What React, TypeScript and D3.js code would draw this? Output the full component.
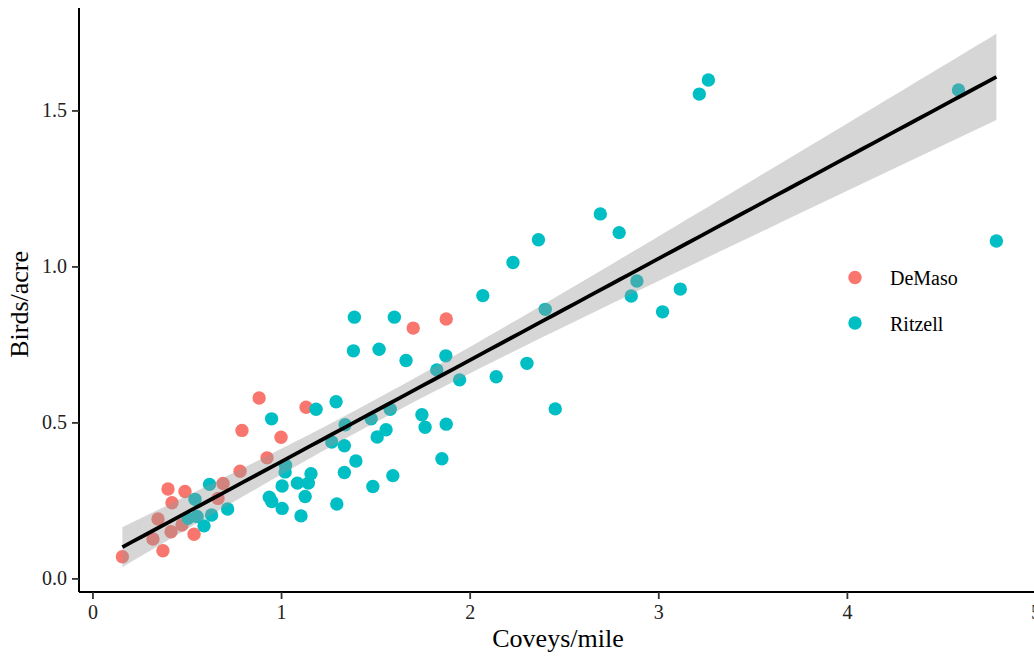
import React from "react";
import * as d3 from "d3";

const demasoX = [0.156, 0.371, 0.318, 0.414, 0.345, 0.536, 0.472, 0.398, 0.488, 0.419, 0.69, 0.663, 0.78, 0.923, 0.79, 0.881, 0.997, 1.13, 1.698, 1.873];
const demasoY = [0.071, 0.09, 0.128, 0.151, 0.192, 0.143, 0.173, 0.288, 0.28, 0.244, 0.306, 0.258, 0.345, 0.388, 0.476, 0.58, 0.454, 0.55, 0.804, 0.833];

const ritzellX = [
  0.541, 0.618, 0.714, 0.629, 0.589, 0.552, 0.504, 0.935, 0.948, 1.003, 1.003, 1.084, 1.142, 1.125, 1.103,
  1.156, 1.021, 1.019, 0.947, 1.183, 1.289, 1.266, 1.333, 1.337, 1.394, 1.333, 1.293, 1.484, 1.59, 1.475, 1.507,
  1.554, 1.576, 1.386, 1.598, 1.381, 1.517, 1.66, 1.871, 1.823, 1.944, 1.744, 1.761, 1.873, 1.85, 2.138, 2.301,
  2.451, 2.398, 2.067, 2.227, 2.362, 2.69, 2.79, 2.884, 2.854, 3.114, 3.02, 3.215, 3.263, 4.589, 4.79,
];
const ritzellY = [
  0.255, 0.303, 0.224, 0.205, 0.17, 0.2, 0.194, 0.262, 0.248, 0.226, 0.298, 0.307, 0.307, 0.264, 0.202,
  0.337, 0.364, 0.343, 0.513, 0.544, 0.568, 0.439, 0.427, 0.494, 0.378, 0.341, 0.24, 0.296, 0.331, 0.513, 0.455,
  0.478, 0.544, 0.839, 0.839, 0.731, 0.736, 0.7, 0.715, 0.67, 0.638, 0.526, 0.486, 0.496, 0.385, 0.648, 0.691,
  0.545, 0.864, 0.908, 1.014, 1.087, 1.17, 1.11, 0.955, 0.907, 0.929, 0.856, 1.554, 1.599, 1.567, 1.083,
];

const groups = ["DeMaso", "Ritzell"];
const groupColors = ["#F8766D", "#00BFC4"];
const xTicks = [0, 1, 2, 3, 4, 5];
const yTicks = [0, 0.5, 1.0, 1.5];
const xDomain = [-0.074, 5.0];
const yDomain = [-0.042, 1.83];

const W = 1034;
const H = 656;
const FONT = "'Liberation Serif', 'Times New Roman', serif";

export default function App() {
  const x = d3.scaleLinear().domain(xDomain).range([79, 1036]);
  const y = d3.scaleLinear().domain(yDomain).range([592, 8]);

  const pts = [
    ...demasoX.map((v, i) => ({ x: v, y: demasoY[i], g: 0 })),
    ...ritzellX.map((v, i) => ({ x: v, y: ritzellY[i], g: 1 })),
  ];

  // linear model with 95% confidence band
  const n = pts.length;
  const mx = d3.mean(pts, (d) => d.x)!;
  const my = d3.mean(pts, (d) => d.y)!;
  const sxx = d3.sum(pts, (d) => (d.x - mx) ** 2);
  const sxy = d3.sum(pts, (d) => (d.x - mx) * (d.y - my));
  const b = sxy / sxx;
  const a = my - b * mx;
  const sse = d3.sum(pts, (d) => (d.y - (a + b * d.x)) ** 2);
  const s = Math.sqrt(sse / (n - 2));
  const tq = 1.989;
  const [xmin, xmax] = d3.extent(pts, (d) => d.x) as [number, number];
  const grid = d3.range(80).map((i) => xmin + ((xmax - xmin) * i) / 79);
  const fit = grid.map((gx) => {
    const yh = a + b * gx;
    const se = s * Math.sqrt(1 / n + (gx - mx) ** 2 / sxx);
    return { x: gx, y: yh, lo: yh - tq * se, hi: yh + tq * se };
  });

  const area = d3
    .area<{ x: number; lo: number; hi: number }>()
    .x((d) => x(d.x))
    .y0((d) => y(d.lo))
    .y1((d) => y(d.hi));
  const line = d3
    .line<{ x: number; y: number }>()
    .x((d) => x(d.x))
    .y((d) => y(d.y));

  return (
    <svg
      width={W}
      height={H}
      style={{ position: "absolute", left: 0, top: 0, display: "block", background: "#fff" }}
      fontFamily={FONT}
    >
      <rect x={0} y={0} width={W} height={H} fill="#fff" />
      {pts.map((d, i) => (
        <circle key={i} cx={x(d.x)} cy={y(d.y)} r={6.7} fill={groupColors[d.g]} />
      ))}
      <path d={area(fit) || ""} fill="#999999" fillOpacity={0.4} />
      <path d={line(fit) || ""} fill="none" stroke="#000" strokeWidth={3.8} />

      {/* axes */}
      <line x1={79} x2={1036} y1={592} y2={592} stroke="#000" strokeWidth={2} />
      <line x1={79} x2={79} y1={8} y2={592} stroke="#000" strokeWidth={2} />
      {xTicks.map((t) => (
        <g key={t}>
          <line x1={x(t)} x2={x(t)} y1={592} y2={599} stroke="#333" strokeWidth={1.8} />
          <text x={x(t)} y={619} textAnchor="middle" fontSize={20} fill="#222">
            {t}
          </text>
        </g>
      ))}
      {yTicks.map((t) => (
        <g key={t}>
          <line x1={72} x2={79} y1={y(t)} y2={y(t)} stroke="#333" strokeWidth={1.8} />
          <text x={67} y={y(t) + 6.5} textAnchor="end" fontSize={20} fill="#222">
            {t.toFixed(1)}
          </text>
        </g>
      ))}
      <text x={558} y={647} textAnchor="middle" fontSize={26} fill="#000">
        Coveys/mile
      </text>
      <text transform={`translate(28,${y(0.88)}) rotate(-90)`} textAnchor="middle" fontSize={26} fill="#000">
        Birds/acre
      </text>

      {/* legend */}
      {groups.map((g, i) => (
        <g key={g}>
          <circle cx={855} cy={277.5 + i * 45.5} r={6.7} fill={groupColors[i]} />
          <text x={890} y={285 + i * 46} fontSize={20} fill="#000">
            {g}
          </text>
        </g>
      ))}
    </svg>
  );
}
